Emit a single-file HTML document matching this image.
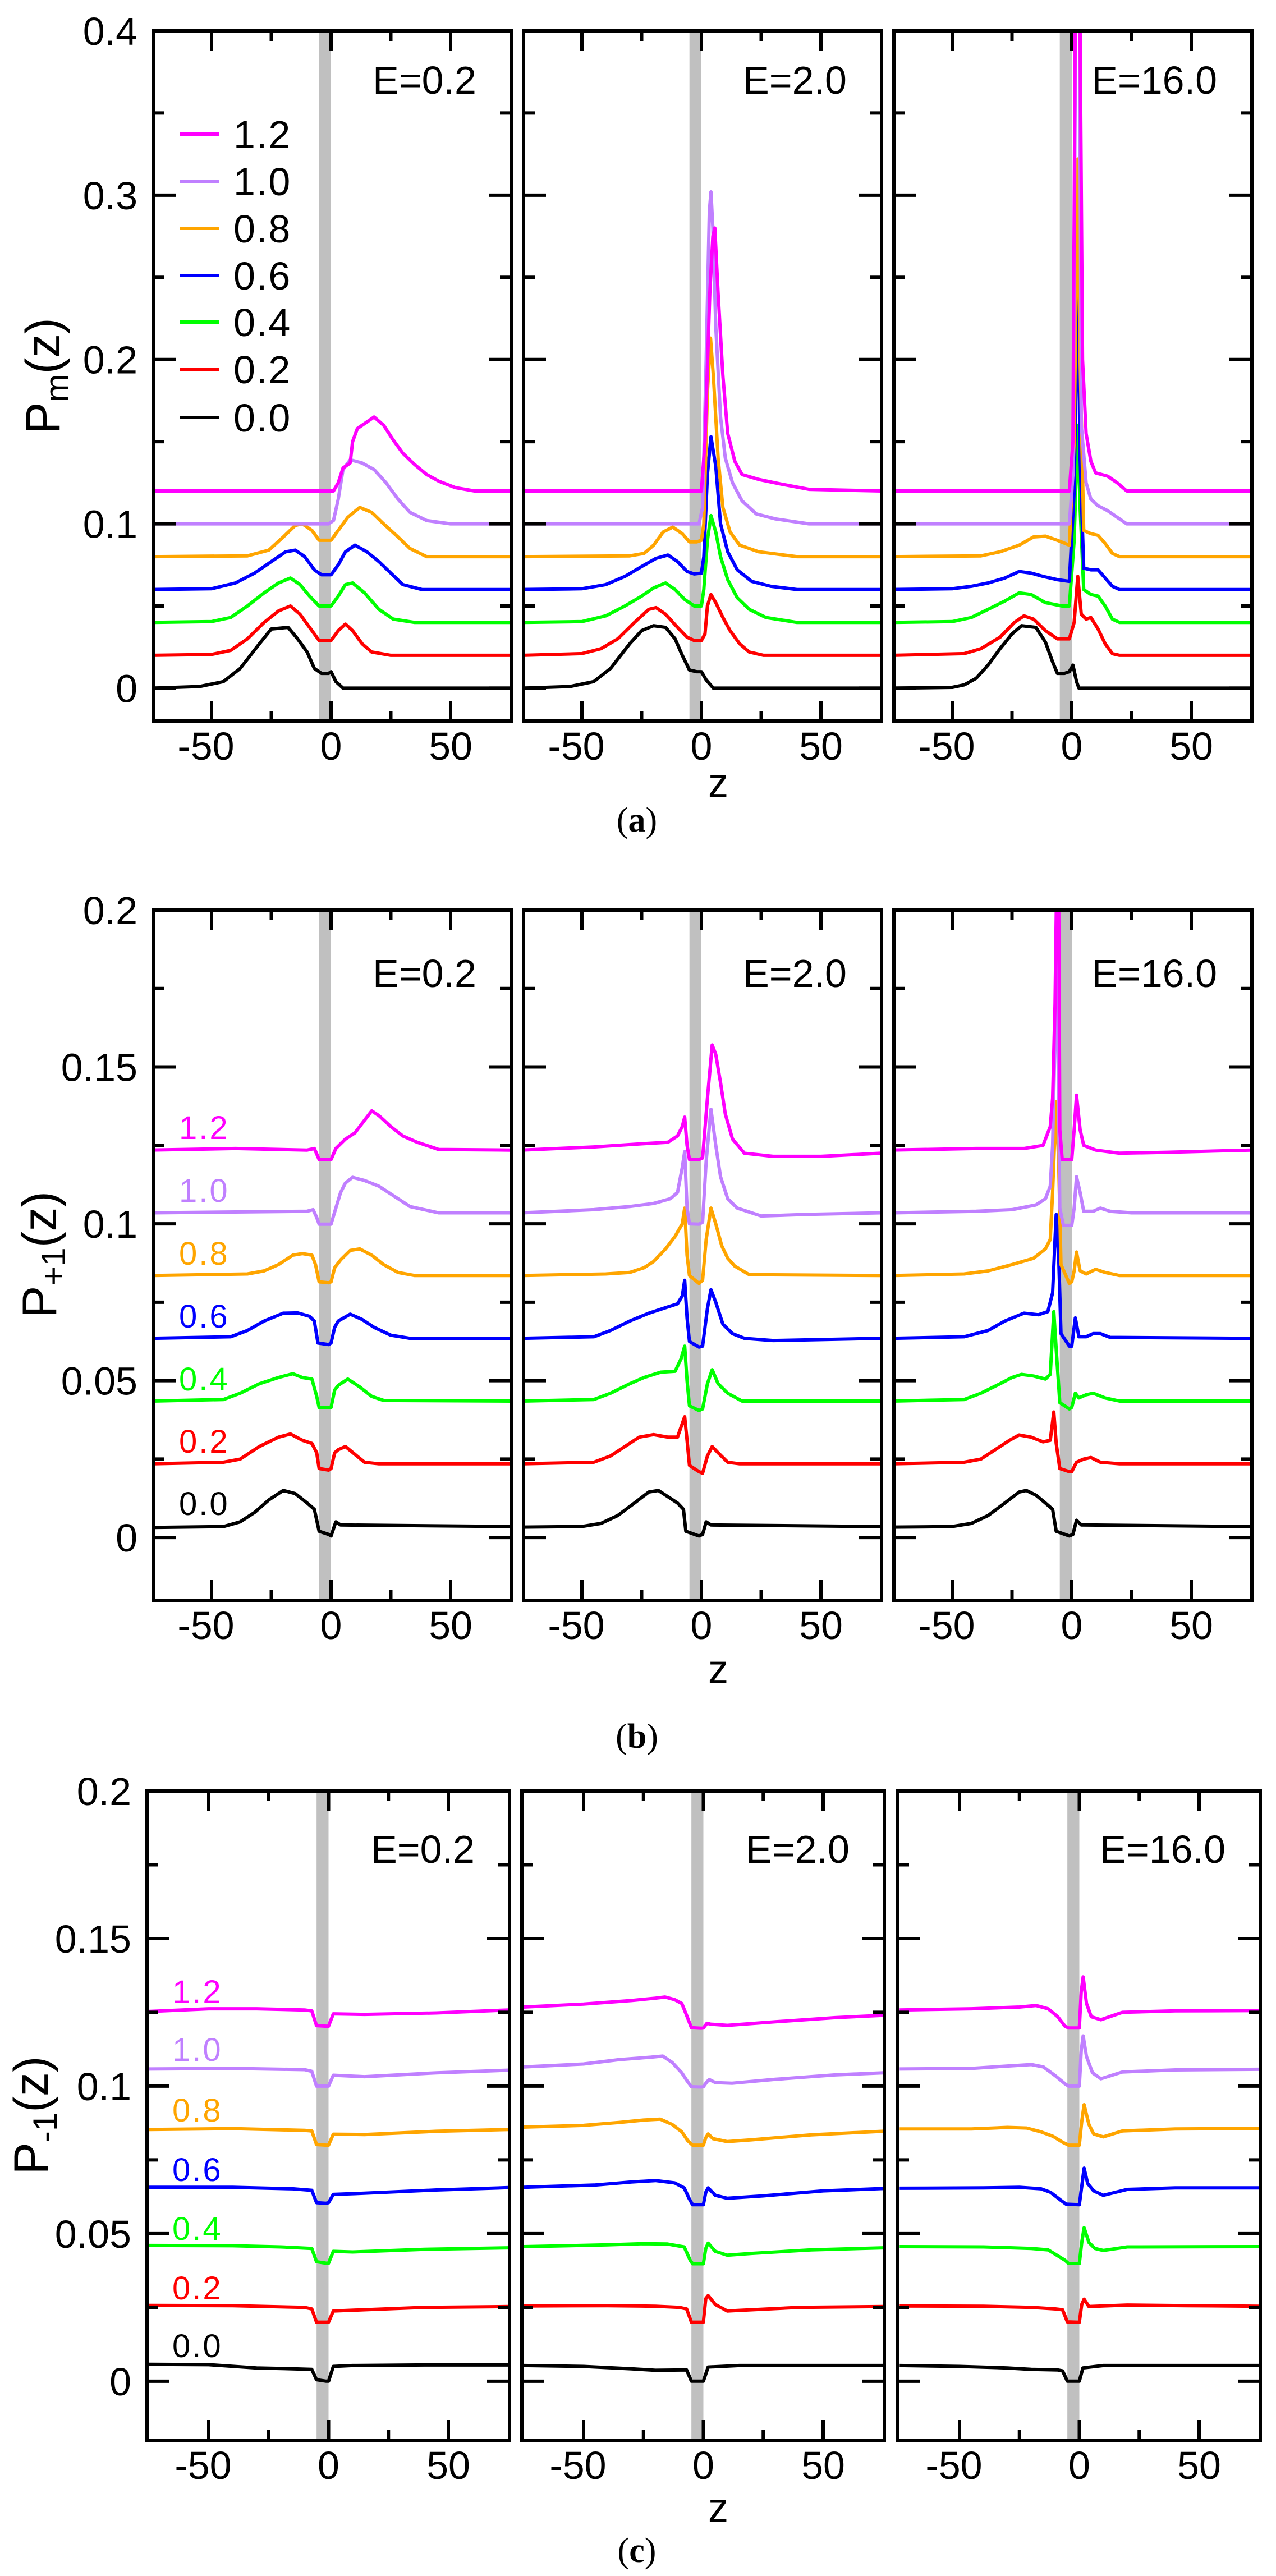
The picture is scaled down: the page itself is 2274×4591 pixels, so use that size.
<!DOCTYPE html>
<html><head><meta charset="utf-8">
<style>
html,body{margin:0;padding:0;background:#fff;}
svg{display:block;}
text{font-family:"Liberation Sans",Arial,sans-serif;fill:#000;}
</style></head>
<body>
<svg id="fig" width="2274" height="4591" viewBox="0 0 2274 4591" xmlns="http://www.w3.org/2000/svg"></svg>
<script>
// ---------- data ----------
const seriesLabels = ["0.0","0.2","0.4","0.6","0.8","1.0","1.2"];
const seriesColors = ["#000000","#ff0000","#00ff00","#0000ff","#ffa500","#c080ff","#ff00ff"];
const panelTitles = ["E=0.2","E=2.0","E=16.0"];
const xTickValues = [-50,0,50];
const xMinorValues = [-25,25];
const yTicksA = [0,0.1,0.2,0.3,0.4];
const yTickLabelsA = ["0","0.1","0.2","0.3","0.4"];
const yTicksBC = [0,0.05,0.1,0.15,0.2];
const yTickLabelsBC = ["0","0.05","0.1","0.15","0.2"];

// Panel (a) E=0.2
const pa1 = [
 [[-75,0],[-55,0.001],[-45,0.004],[-38,0.012],[-30,0.027],[-25,0.036],[-18,0.037],[-14,0.030],[-10,0.022],[-7,0.012],[-4,0.009],[-1,0.009],[0,0.010],[2,0.004],[5,0],[75,0]],
 [[-75,.02],[-50,.0205],[-42,.023],[-35,.03],[-28,.04],[-22,.047],[-17,.050],[-13,.045],[-8,.035],[-5,.029],[0,.029],[3,.035],[6,.039],[9,.035],[13,.027],[17,.022],[25,.02],[75,.02]],
 [[-75,.04],[-50,.0405],[-42,.043],[-35,.05],[-28,.058],[-22,.064],[-17,.067],[-13,.063],[-9,.056],[-5,.05],[0,.05],[3,.056],[6,.063],[9,.064],[14,.058],[20,.048],[26,.042],[35,.04],[75,.04]],
 [[-75,.06],[-50,.0605],[-40,.064],[-32,.07],[-25,.077],[-19,.083],[-15,.084],[-11,.08],[-7,.072],[-4,.069],[0,.069],[3,.075],[6,.083],[10,.087],[15,.083],[20,.077],[25,.07],[30,.063],[38,.06],[75,.06]],
 [[-75,.08],[-35,.0805],[-26,.084],[-20,.092],[-15,.099],[-12,.1],[-8,.096],[-5,.09],[0,.09],[3,.096],[7,.104],[12,.11],[17,.107],[22,.1],[28,.092],[33,.085],[40,.08],[75,.08]],
 [[-75,.1],[-1,.1],[1,.102],[3,.115],[5,.133],[8,.139],[13,.137],[18,.133],[23,.125],[28,.115],[33,.107],[40,.102],[50,.1],[75,.1]],
 [[-75,.12],[1,.12],[3,.125],[5,.134],[8,.137],[9,.15],[11,.158],[15,.162],[18,.165],[22,.16],[26,.151],[30,.143],[35,.136],[40,.13],[45,.126],[52,.122],[60,.12],[75,.12]]
];
// Panel (a) E=2.0
const pa2 = [
 [[-75,0],[-55,.001],[-45,.004],[-38,.012],[-30,.027],[-25,.035],[-20,.038],[-15,.037],[-11,.03],[-8,.02],[-5,.011],[-2,.01],[0,.01],[2,.005],[5,0],[75,0]],
 [[-75,.02],[-50,.021],[-42,.024],[-35,.03],[-28,.04],[-22,.048],[-19,.049],[-15,.045],[-10,.037],[-6,.031],[-3,.029],[0,.029],[1.5,.033],[2.5,.05],[4,.057],[6,.052],[9,.043],[12,.035],[16,.027],[20,.022],[26,.02],[75,.02]],
 [[-75,.04],[-50,.0405],[-40,.044],[-32,.05],[-25,.056],[-20,.061],[-15,.064],[-11,.06],[-7,.054],[-3,.05],[0,.05],[1,.06],[2.5,.09],[4,.105],[6,.095],[8,.08],[11,.066],[15,.055],[20,.048],[27,.043],[40,.04],[75,.04]],
 [[-75,.06],[-50,.0605],[-40,.063],[-32,.068],[-25,.074],[-19,.079],[-14,.081],[-10,.077],[-6,.071],[-3,.0695],[0,.07],[1,.08],[2.5,.13],[4,.153],[6,.135],[8,.1],[11,.083],[15,.072],[21,.065],[29,.062],[40,.06],[75,.06]],
 [[-75,.08],[-30,.0805],[-24,.082],[-20,.087],[-16,.095],[-12,.098],[-8,.094],[-5,.089],[-2,.089],[0,.09],[1,.1],[2.5,.18],[3.8,.213],[5,.19],[7,.14],[9,.11],[12,.095],[16,.087],[24,.083],[40,.08],[75,.08]],
 [[-75,.1],[-1,.1],[0.5,.11],[2,.2],[3.3,.29],[4,.302],[4.8,.28],[6,.22],[8,.165],[10,.14],[13,.125],[17,.114],[23,.106],[31,.103],[45,.1],[75,.1]],
 [[-75,.12],[0,.12],[1.5,.15],[3.5,.24],[4.8,.275],[5.6,.28],[7,.24],[9,.19],[11,.155],[14,.138],[17,.13],[24,.127],[34,.124],[45,.121],[75,.12]]
];
// Panel (a) E=16.0
const pa3 = [
 [[-75,0],[-50,.0005],[-45,.002],[-40,.006],[-35,.014],[-30,.024],[-25,.033],[-21,.038],[-15,.037],[-11,.028],[-8,.016],[-6,.009],[-3,.009],[-1,.01],[0.5,.014],[2,.004],[3,0],[75,0]],
 [[-75,.02],[-45,.021],[-38,.024],[-30,.031],[-24,.04],[-20,.044],[-16,.042],[-11,.035],[-6,.03],[-1,.03],[1,.04],[2.5,.068],[4,.045],[6,.042],[8,.043],[11,.036],[14,.027],[17,.021],[20,.02],[75,.02]],
 [[-75,.04],[-50,.0405],[-42,.043],[-35,.048],[-28,.053],[-22,.058],[-17,.057],[-11,.052],[-4,.05],[-1,.05],[1,.09],[2.5,.16],[3.5,.11],[5,.06],[8,.057],[11,.056],[14,.05],[17,.042],[20,.04],[75,.04]],
 [[-75,.06],[-50,.0605],[-42,.062],[-35,.064],[-28,.067],[-22,.071],[-17,.07],[-12,.068],[-6,.066],[-1,.065],[1,.12],[2.5,.249],[3.5,.14],[5,.073],[8,.072],[11,.072],[14,.067],[17,.062],[20,.06],[75,.06]],
 [[-75,.08],[-38,.0805],[-30,.083],[-22,.087],[-16,.092],[-11,.0925],[-6,.09],[-1,.087],[1,.15],[2.5,.322],[3.5,.2],[5,.096],[8,.094],[11,.093],[14,.088],[17,.082],[20,.08],[75,.08]],
 [[-75,.1],[-1,.1],[0.5,.13],[2,.5],[3,.5],[4,.16],[6,.125],[8,.115],[11,.111],[15,.108],[19,.104],[23,.1],[75,.1]],
 [[-75,.12],[-1,.12],[0.5,.15],[1.8,.5],[3,.5],[4.5,.2],[6,.155],[8,.138],[10,.131],[15,.129],[19,.125],[23,.12],[75,.12]]
];
// Panel (b) E=0.2
const pb1 = [
 [[-75,.0032],[-45,.0035],[-38,.005],[-32,.008],[-26,.012],[-20,.015],[-15,.014],[-10,.011],[-7,.009],[-5,.002],[-1,.001],[0,.0005],[2,.005],[4,.004],[75,.0035]],
 [[-75,.0235],[-45,.024],[-38,.025],[-30,.029],[-22,.032],[-17,.033],[-12,.031],[-8,.030],[-6,.027],[-5,.022],[-1,.0215],[0,.022],[1.5,.027],[3,.028],[6,.029],[10,.0265],[14,.024],[20,.0235],[75,.0235]],
 [[-75,.0435],[-45,.044],[-38,.046],[-30,.049],[-22,.051],[-16,.0522],[-12,.051],[-8,.0505],[-6,.045],[-5,.0415],[0,.0415],[1.5,.047],[3,.0485],[7,.0505],[12,.048],[17,.045],[22,.0437],[75,.0435]],
 [[-75,.0635],[-42,.064],[-35,.066],[-28,.069],[-20,.0715],[-14,.0716],[-9,.0705],[-7,.069],[-5.5,.062],[-1,.0615],[0,.062],[1.5,.067],[3,.069],[8,.0712],[13,.0695],[18,.067],[25,.0645],[33,.0635],[75,.0635]],
 [[-75,.0835],[-35,.084],[-28,.085],[-22,.087],[-16,.09],[-12,.0905],[-8,.09],[-6.5,.087],[-5,.0815],[-1,.0812],[0,.0815],[1.5,.086],[4,.0885],[8,.0915],[12,.092],[17,.09],[22,.087],[28,.0845],[35,.0835],[75,.0835]],
 [[-75,.1035],[-10,.104],[-7.5,.1045],[-6,.102],[-5,.0999],[0,.0999],[2,.105],[4,.11],[6,.113],[9,.1148],[14,.1138],[20,.112],[26,.109],[33,.1055],[45,.1035],[75,.1035]],
 [[-75,.1235],[-40,.124],[-10,.1235],[-7,.124],[-5,.1205],[0,.1205],[2,.124],[6,.127],[10,.129],[14,.133],[17,.136],[20,.1345],[25,.131],[30,.128],[36,.126],[45,.1237],[75,.1235]]
];
// Panel (b) E=2.0
const pb2 = [
 [[-75,.0033],[-50,.0035],[-42,.0045],[-35,.007],[-28,.011],[-22,.0145],[-18,.015],[-14,.013],[-10,.011],[-7.5,.009],[-6.5,.002],[-1,.0005],[0.5,.001],[2,.005],[4,.004],[75,.0035]],
 [[-75,.0235],[-45,.024],[-38,.026],[-32,.029],[-26,.032],[-20,.0328],[-14,.032],[-10,.032],[-7,.0385],[-6,.031],[-5,.023],[-1,.021],[0.5,.0205],[2.5,.026],[4.5,.029],[7,.027],[11,.024],[16,.0235],[75,.0235]],
 [[-75,.0435],[-45,.044],[-38,.046],[-30,.049],[-24,.051],[-17,.0527],[-11,.053],[-8.5,.057],[-7,.061],[-6,.05],[-5,.042],[-1,.0405],[0.5,.041],[2.5,.049],[4.5,.0535],[7,.049],[11,.046],[17,.0435],[75,.0435]],
 [[-75,.0635],[-45,.064],[-38,.066],[-30,.069],[-22,.0715],[-16,.073],[-10,.0745],[-8,.077],[-7,.082],[-6,.07],[-5,.0625],[-1,.0607],[0.5,.061],[2.5,.073],[4,.079],[6,.075],[9,.068],[13,.065],[18,.0635],[30,.0628],[75,.0635]],
 [[-75,.0835],[-40,.084],[-30,.0845],[-24,.086],[-20,.088],[-15,.092],[-11,.096],[-8,.1],[-7,.105],[-6,.09],[-5,.0835],[-1,.081],[0.5,.082],[2,.095],[4,.105],[6,.1],[8.5,.093],[11,.089],[14,.0865],[20,.0838],[75,.0835]],
 [[-75,.1035],[-45,.1045],[-30,.1055],[-20,.1065],[-13,.108],[-10,.11],[-8,.118],[-7,.123],[-6,.105],[-5,.1],[-1,.0999],[0.5,.1005],[2,.12],[4,.1365],[6,.125],[8,.115],[11,.108],[15,.105],[25,.1025],[45,.103],[75,.1035]],
 [[-75,.1235],[-45,.1245],[-25,.1255],[-14,.126],[-10,.128],[-8,.131],[-7,.134],[-6,.125],[-5,.1205],[-1,.1205],[0.5,.121],[2.5,.14],[4.5,.157],[6,.154],[8,.145],[10,.135],[13,.127],[18,.1225],[30,.1215],[50,.1215],[75,.1225]]
];
// Panel (b) E=16.0
const pb3 = [
 [[-75,.0033],[-50,.0035],[-42,.0045],[-35,.007],[-28,.011],[-22,.0145],[-19,.015],[-15,.0135],[-11,.011],[-8,.009],[-6.5,.002],[-1,.0005],[0.5,.001],[2,.0055],[4,.004],[75,.0035]],
 [[-75,.0235],[-45,.024],[-38,.025],[-32,.028],[-26,.031],[-22,.0327],[-17,.032],[-12,.0305],[-9,.031],[-7.5,.04],[-6.5,.03],[-5,.022],[-1,.021],[0,.021],[2,.024],[5,.025],[8,.0255],[12,.024],[20,.0235],[75,.0235]],
 [[-75,.0435],[-45,.044],[-38,.046],[-30,.049],[-25,.051],[-21,.052],[-16,.0515],[-11,.0505],[-9,.052],[-7.5,.072],[-6.5,.06],[-5,.043],[-1,.041],[0,.0415],[1.5,.046],[3,.0445],[6,.0455],[9,.046],[14,.0445],[20,.0435],[75,.0435]],
 [[-75,.0635],[-45,.064],[-35,.066],[-28,.069],[-20,.0715],[-14,.071],[-10,.072],[-8,.078],[-7,.095],[-6.5,.103],[-5.5,.09],[-4.5,.065],[-1,.061],[0,.061],[1.5,.07],[3,.064],[6,.064],[9,.065],[12,.065],[16,.0638],[75,.0635]],
 [[-75,.0835],[-45,.084],[-35,.085],[-25,.087],[-16,.089],[-11,.092],[-9,.095],[-8,.11],[-7,.13],[-6.5,.139],[-5.5,.12],[-4.5,.087],[-1,.081],[0,.0815],[1,.085],[2,.091],[3.5,.085],[6,.084],[10,.0855],[14,.0845],[20,.0835],[75,.0835]],
 [[-75,.1035],[-40,.104],[-25,.1045],[-15,.106],[-11,.108],[-9,.112],[-8,.125],[-7,.16],[-6.5,.185],[-5.8,.16],[-5,.105],[-3.5,.0995],[0,.0995],[1,.105],[2,.115],[3.5,.11],[5,.104],[9,.104],[12,.105],[16,.104],[25,.1035],[75,.1035]],
 [[-75,.1235],[-40,.124],[-20,.124],[-12,.125],[-9,.131],[-8,.14],[-7,.17],[-6.3,.21],[-5.5,.21],[-5,.13],[-4,.1205],[0,.1205],[1,.13],[2,.141],[3.5,.13],[5,.125],[10,.1235],[20,.1225],[40,.1228],[75,.1235]]
];
// Panel (c) E=0.2
const pc1 = [
 [[-75,.0057],[-50,.0056],[-30,.0045],[-15,.0042],[-7,.004],[-5,.0005],[-1,0],[0,0],[2,.005],[10,.0053],[40,.0055],[75,.0055]],
 [[-75,.0257],[-40,.0256],[-10,.025],[-7,.0245],[-5,.02],[-1,.02],[0,.02],[2,.0238],[15,.0242],[40,.025],[75,.0253]],
 [[-75,.046],[-40,.0459],[-20,.0455],[-7,.045],[-5,.0405],[-1,.04],[0,.04],[2,.044],[10,.0438],[40,.0447],[75,.0452]],
 [[-75,.0657],[-40,.0657],[-15,.0652],[-7,.0647],[-5,.0605],[-1,.0603],[0,.0605],[2,.0633],[15,.0637],[45,.0648],[75,.0656]],
 [[-75,.0853],[-40,.0856],[-10,.085],[-7,.0848],[-5,.0802],[-1,.08],[0,.08],[2,.0837],[15,.0836],[45,.0847],[75,.0853]],
 [[-75,.1058],[-40,.106],[-10,.1056],[-7,.105],[-5,.1],[-1,.1],[0,.1],[2,.1037],[15,.1032],[45,.1045],[75,.1054]],
 [[-75,.1253],[-50,.1262],[-30,.1262],[-10,.1258],[-7,.1255],[-5,.1205],[-1,.1203],[0,.1203],[2,.1245],[15,.1243],[45,.1248],[75,.1258]]
];
// Panel (c) E=2.0
const pc2 = [
 [[-75,.0053],[-50,.005],[-30,.0042],[-20,.0037],[-7,.0038],[-5,0],[-1,0],[0,0],[2,.0048],[15,.0053],[45,.0053],[75,.0053]],
 [[-75,.0255],[-40,.0256],[-20,.0254],[-10,.025],[-7,.0245],[-5,.02],[-1,.02],[0,.02],[1,.028],[2,.029],[5,.026],[10,.0238],[15,.024],[40,.025],[75,.0253]],
 [[-75,.0456],[-40,.0462],[-25,.0466],[-15,.0465],[-8,.0455],[-5.5,.041],[-4.5,.0398],[0,.0398],[1,.045],[2,.0468],[5,.044],[10,.0427],[20,.0433],[45,.0445],[75,.0452]],
 [[-75,.0657],[-45,.0665],[-30,.0675],[-20,.068],[-12,.0672],[-8,.0655],[-6,.062],[-4.5,.0598],[0,.0598],[1,.064],[2,.0655],[5,.063],[10,.062],[25,.0628],[50,.0645],[75,.0653]],
 [[-75,.0861],[-50,.0867],[-35,.0877],[-25,.0885],[-18,.0888],[-13,.087],[-9,.0845],[-6.5,.0815],[-4.5,.08],[0,.08],[1,.0825],[2,.0838],[4,.0822],[10,.0812],[20,.0818],[45,.0835],[75,.0847]],
 [[-75,.1065],[-50,.1075],[-35,.109],[-22,.1098],[-17,.1102],[-13,.108],[-9,.1045],[-7,.102],[-5,.0998],[-1,.0997],[0,.0998],[1.5,.1015],[2.5,.1022],[5,.1012],[12,.101],[30,.1023],[55,.1038],[75,.1045]],
 [[-75,.1268],[-50,.1278],[-30,.129],[-20,.1298],[-16,.1302],[-12,.1293],[-9,.128],[-7,.124],[-5,.1198],[-1,.1196],[0,.1197],[1.5,.1213],[3,.121],[10,.1206],[30,.1218],[55,.1232],[75,.124]]
];
// Panel (c) E=16.0
const pc3 = [
 [[-75,.0053],[-50,.005],[-30,.0045],[-20,.004],[-9,.0038],[-7,.0035],[-5,0],[-1,0],[0,0],[1.5,.0045],[10,.0053],[45,.0053],[75,.0053]],
 [[-75,.0255],[-40,.0254],[-20,.025],[-10,.0245],[-7,.0242],[-5,.0201],[-1,.02],[0,.02],[1,.026],[2,.0278],[4,.0253],[10,.0255],[20,.0258],[45,.0256],[75,.0254]],
 [[-75,.0456],[-40,.0455],[-20,.045],[-13,.0445],[-9,.0425],[-6,.041],[-4.5,.0399],[0,.0399],[1,.047],[2,.052],[4,.047],[6.5,.045],[10,.0443],[20,.0455],[75,.0456]],
 [[-75,.0654],[-40,.0655],[-25,.0657],[-16,.0652],[-12,.064],[-8,.0615],[-5.5,.06],[0,.0598],[1,.066],[2,.0722],[3.5,.067],[6,.0645],[10,.063],[20,.065],[40,.0655],[75,.0655]],
 [[-75,.0855],[-45,.0855],[-30,.086],[-22,.0858],[-16,.0845],[-11,.083],[-7,.081],[-4.5,.08],[0,.08],[1,.088],[2,.0937],[4,.087],[6,.0838],[10,.0828],[18,.0848],[40,.0855],[75,.0856]],
 [[-75,.1058],[-45,.106],[-30,.1068],[-20,.1073],[-15,.1065],[-10,.1035],[-6,.1008],[-4.5,.1],[0,.1],[0.8,.112],[1.6,.117],[3,.11],[5.5,.1045],[9,.1025],[18,.1048],[40,.1055],[75,.1057]],
 [[-75,.1258],[-45,.1262],[-25,.1268],[-18,.1273],[-13,.1262],[-9,.1235],[-6,.1203],[-4.5,.1197],[0,.1197],[0.8,.132],[1.6,.137],[3,.128],[5,.1235],[9,.1225],[18,.125],[40,.1255],[75,.1256]]
];
const wallRange = [-5,0];

// ---------- layout ----------
const NS = "http://www.w3.org/2000/svg";
const svg = document.getElementById('fig');
function mk(tag, attrs, parent){
  const e = document.createElementNS(NS, tag);
  for (const k in attrs) e.setAttribute(k, attrs[k]);
  (parent||svg).appendChild(e);
  return e;
}
const rows = [
 {key:'a', top:55, h:1230, lefts:[273,933,1593], w:638, zoff:317, zscale:4.26, ymin:-0.02, ymax:0.4, ticks:yTicksA, tlabels:yTickLabelsA, minor:[0.05,0.15,0.25,0.35], data:[pa1,pa2,pa3], titleX:76, titleY:670, sub:'m', eBase:112, labLeft:null, zLabelY:1420, capY:1482, cap:'a'},
 {key:'b', top:1622, h:1230, lefts:[273,933,1593], w:638, zoff:317, zscale:4.26, ymin:-0.02, ymax:0.2, ticks:yTicksBC, tlabels:yTickLabelsBC, minor:[0.025,0.075,0.125,0.175], data:[pb1,pb2,pb3], titleX:70, titleY:2236, sub:'+1', eBase:137, labLeft:319, labY:[2679,2568,2457,2345,2233,2121,2009], zLabelY:3000, capY:3115, cap:'b'},
 {key:'c', top:3192, h:1157, lefts:[262,930,1600], w:646, zoff:323.5, zscale:4.27, ymin:-0.02, ymax:0.2, ticks:yTicksBC, tlabels:yTickLabelsBC, minor:[0.025,0.075,0.125,0.175], data:[pc1,pc2,pc3], titleX:55, titleY:3770, sub:'-1', eBase:128, labLeft:307, labY:[4180,4077,3971,3866,3760,3652,3549], zLabelY:4494, capY:4566, cap:'c'}
];

rows.forEach((r, ri) => {
  const g = mk('g', {});
  
  
  r.lefts.forEach((L, pi) => {
    const pg = mk('g', {}, g);
    
    
    const xs = z => L + r.zoff + z * r.zscale;
    const ys = v => r.top + r.h * (r.ymax - v) / (r.ymax - r.ymin);
    const cid = 'clip' + r.key + pi;
    const cp = mk('clipPath', {id: cid}, pg);
    mk('rect', {x: L, y: r.top, width: r.w, height: r.h}, cp);
    const band = mk('rect', {x: xs(wallRange[0]), y: r.top, width: xs(wallRange[1]) - xs(wallRange[0]), height: r.h, fill: '#c0c0c0'}, pg);
    
    
    const cg = mk('g', {'clip-path': 'url(#' + cid + ')'}, pg);
    r.data[pi].forEach((pts, si) => {
      const d = pts.map((p, i) => (i ? 'L' : 'M') + xs(p[0]).toFixed(1) + ',' + ys(p[1]).toFixed(1)).join(' ');
      const path = mk('path', {d: d, fill: 'none', stroke: seriesColors[si], 'stroke-width': 6, 'stroke-linejoin': 'round'}, cg);
      
      
    });
    const fr = mk('rect', {x: L, y: r.top, width: r.w, height: r.h, fill: 'none', stroke: '#000', 'stroke-width': 6}, pg);
    
    
    let td = '';
    xTickValues.forEach(v => { const x = xs(v); td += `M${x},${r.top}v36M${x},${r.top+r.h}v-36`; });
    xMinorValues.forEach(v => { const x = xs(v); td += `M${x},${r.top}v18M${x},${r.top+r.h}v-18`; });
    r.ticks.forEach(v => { const y = ys(v); td += `M${L},${y}h40M${L+r.w},${y}h-40`; });
    r.minor.forEach(v => { const y = ys(v); td += `M${L},${y}h20M${L+r.w},${y}h-20`; });
    const tk = mk('path', {d: td, stroke: '#000', 'stroke-width': 6, fill: 'none'}, pg);
    
    
    xTickValues.forEach(v => {
      const t = mk('text', {x: xs(v) - (v < 0 ? 10 : 0), y: r.top + r.h + 69, 'font-size': 70, 'text-anchor': 'middle'}, pg);
      t.textContent = String(v);
      
      
    });
    const et = mk('text', {x: L + r.w - 62, y: r.top + r.eBase, 'font-size': 70, 'text-anchor': 'end'}, pg);
    et.textContent = panelTitles[pi];
    
    
    if (pi === 0) {
      r.ticks.forEach((v, i) => {
        const t = mk('text', {x: L - 28, y: ys(v) + 25, 'font-size': 70, 'text-anchor': 'end'}, pg);
        t.textContent = r.tlabels[i];
        
        
      });
      if (r.key === 'a') {
        const lg = mk('g', {}, pg);
        
        
        const ly = [744,658,574,491,407,323,239];
        seriesLabels.forEach((s, si) => {
          const ln = mk('line', {x1: 320, x2: 390, y1: ly[si], y2: ly[si], stroke: seriesColors[si], 'stroke-width': 6}, lg);
          
          
          const lt = mk('text', {x: 416, y: ly[si] + 25, 'font-size': 70, 'letter-spacing': 2}, lg);
          lt.textContent = s;
          
          
        });
      } else {
        seriesLabels.forEach((s, si) => {
          const lt = mk('text', {x: r.labLeft, y: r.labY[si] + 21, 'font-size': 58, 'letter-spacing': 3}, pg);
          lt.textContent = s;
          lt.style.fill = seriesColors[si];
          
          
        });
      }
    }
  });
  const yt = mk('text', {x: 0, y: 0, 'font-size': 86, 'text-anchor': 'middle', transform: `translate(${r.titleX + 30},${r.titleY}) rotate(-90)`}, g);
  yt.innerHTML = 'P<tspan font-size="60" dy="16">' + r.sub + '</tspan><tspan dy="-16">(z)</tspan>';
  
  
  const xt = mk('text', {x: 1280, y: r.zLabelY, 'font-size': 72, 'text-anchor': 'middle'}, g);
  xt.textContent = 'z';
  
  
  const cap = mk('text', {x: 1135, y: r.capY, 'font-size': 62, 'text-anchor': 'middle'}, g);
  cap.style.fontFamily = '"Liberation Serif", serif';
  cap.innerHTML = '(<tspan font-weight="bold">' + r.cap + '</tspan>)';
  
  
});
</script>
</body></html>
